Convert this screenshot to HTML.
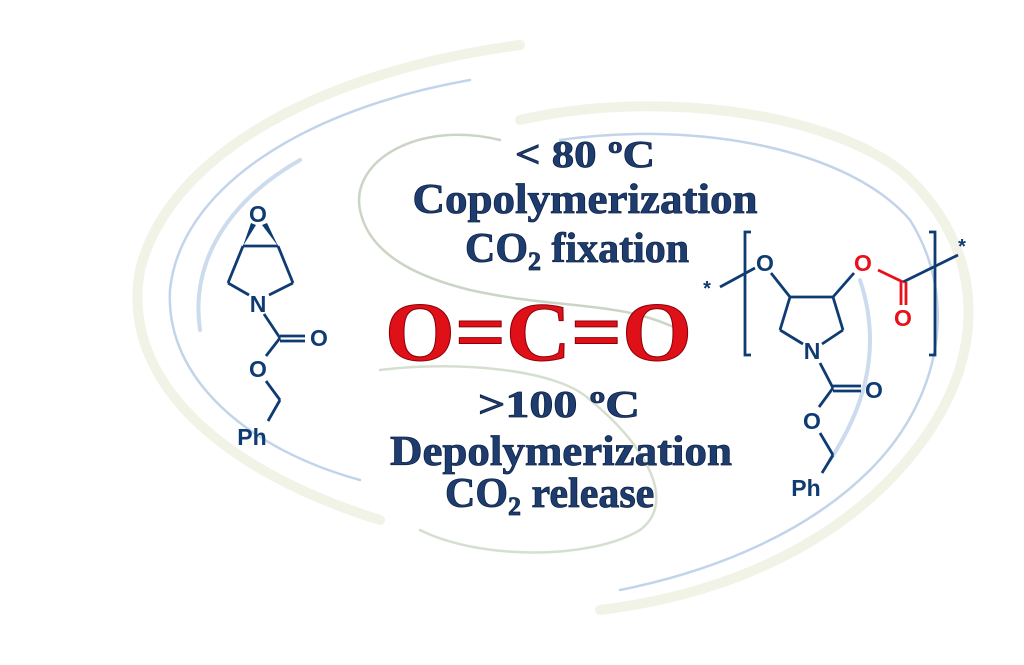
<!DOCTYPE html>
<html><head><meta charset="utf-8"><style>
html,body{margin:0;padding:0;background:#fff;width:1024px;height:665px;overflow:hidden}
svg{display:block}
.t{font-family:"Liberation Serif",serif;font-weight:bold;fill:#1f3c6e;stroke:#0d2448;stroke-width:0.8}
.c{font-family:"Liberation Sans",sans-serif;font-weight:bold;fill:#0f3b73}
.r{font-family:"Liberation Sans",sans-serif;font-weight:bold;fill:#e8101a}
</style></head><body>
<svg width="1024" height="665" viewBox="0 0 1024 665" xmlns="http://www.w3.org/2000/svg">
<g fill="none" stroke-linecap="round">
<path d="M520,45 C330,70 170,150 140,270 C120,380 220,470 380,520" stroke="#e6ebd3" stroke-width="10" opacity="0.6"/>
<path d="M470,80 C300,110 180,190 170,290 C165,380 250,450 360,480" stroke="#9ab8dc" stroke-width="2.5" opacity="0.6"/>
<path d="M200,330 C190,260 230,200 300,160" stroke="#9ab8dc" stroke-width="4" opacity="0.5"/>
<path d="M500,140 C420,120 350,160 360,210 C370,260 430,280 470,290 C560,310 620,300 680,330" stroke="#a9b9a0" stroke-width="2.5" opacity="0.6"/>
<path d="M380,370 C460,360 560,370 590,400 C640,440 680,500 640,530 C590,560 480,560 420,530" stroke="#b9c9b0" stroke-width="2.5" opacity="0.6"/>
<path d="M520,120 C650,90 820,110 900,170 C980,240 990,340 930,430 C870,520 760,590 600,610" stroke="#e6ebd3" stroke-width="10" opacity="0.6"/>
<path d="M560,140 C700,120 850,150 910,220 C960,300 940,400 870,470 C810,530 720,570 620,590" stroke="#9ab8dc" stroke-width="2.5" opacity="0.6"/>
<path d="M860,280 C880,340 870,400 830,460" stroke="#9ab8dc" stroke-width="4" opacity="0.5"/>
</g>
<text class="t" x="585" y="167" font-size="38" text-anchor="middle" textLength="140" lengthAdjust="spacingAndGlyphs">&lt; 80 ºC</text>
<text class="t" x="585" y="213" font-size="42" text-anchor="middle" textLength="345" lengthAdjust="spacingAndGlyphs">Copolymerization</text>
<text class="t" x="465" y="262" font-size="42">CO<tspan font-size="26" dy="8">2</tspan><tspan dy="-8"> fixation</tspan></text>
<text x="385" y="360" font-family="Liberation Serif,serif" font-weight="bold" font-size="84" fill="#e01018" stroke="#8a0008" stroke-width="1" textLength="307" lengthAdjust="spacingAndGlyphs">O=C=O</text>
<text class="t" x="478" y="417" font-size="38" textLength="162" lengthAdjust="spacingAndGlyphs">&gt;100  ºC</text>
<text class="t" x="561" y="465" font-size="42" text-anchor="middle" textLength="342" lengthAdjust="spacingAndGlyphs">Depolymerization</text>
<text class="t" x="445" y="507" font-size="42">CO<tspan font-size="26" dy="8">2</tspan><tspan dy="-8"> release</tspan></text>
<g stroke="#0f3b73" stroke-width="2.8" fill="none">
<line x1="243" y1="246" x2="278" y2="246"/>
<line x1="243" y1="246" x2="228" y2="283"/>
<line x1="278" y1="246" x2="293" y2="283"/>
<line x1="228" y1="283" x2="249" y2="295"/>
<line x1="293" y1="283" x2="269" y2="295"/>
<line x1="264" y1="314" x2="280" y2="338"/>
<line x1="280" y1="336" x2="305" y2="336"/>
<line x1="280" y1="341" x2="305" y2="341"/>
<line x1="280" y1="338" x2="266" y2="356"/>
<line x1="266" y1="381" x2="280" y2="400"/>
<line x1="280" y1="400" x2="268" y2="421"/>
</g>
<polygon points="243,246 251,223 256,225" fill="#0f3b73"/>
<polygon points="278,246 262,225 267,223" fill="#0f3b73"/>
<text class="c" x="258" y="222" font-size="23" text-anchor="middle">O</text>
<text class="c" x="258" y="312" font-size="23" text-anchor="middle">N</text>
<text class="c" x="319" y="346" font-size="23" text-anchor="middle">O</text>
<text class="c" x="258" y="377" font-size="23" text-anchor="middle">O</text>
<text class="c" x="252" y="445" font-size="23" text-anchor="middle">Ph</text>
<g stroke="#0f3b73" stroke-width="2.8" fill="none">
<path d="M751,232 h-6 v123 h6"/>
<path d="M929,232 h6 v123 h-6"/>
<line x1="720" y1="287" x2="755" y2="268"/>
<line x1="771" y1="273" x2="790" y2="297"/>
<line x1="790" y1="297" x2="833" y2="297"/>
<line x1="833" y1="297" x2="854" y2="273"/>
<line x1="790" y1="297" x2="780" y2="330"/>
<line x1="833" y1="297" x2="843" y2="330"/>
<line x1="780" y1="330" x2="803" y2="344"/>
<line x1="843" y1="330" x2="822" y2="344"/>
<line x1="820" y1="363" x2="833" y2="388"/>
<line x1="833" y1="386" x2="861" y2="386"/>
<line x1="833" y1="391" x2="861" y2="391"/>
<line x1="833" y1="388" x2="819" y2="407"/>
<line x1="820" y1="433" x2="833" y2="455"/>
<line x1="833" y1="455" x2="822" y2="473"/>
<line x1="903" y1="282" x2="958" y2="255"/>
</g>
<g stroke="#e8101a" stroke-width="2.8">
<line x1="878" y1="270" x2="903" y2="282"/>
<line x1="901" y1="282" x2="901" y2="305"/>
<line x1="906" y1="282" x2="906" y2="305"/>
</g>
<text class="c" x="765" y="271" font-size="23" text-anchor="middle">O</text>
<text class="r" x="863" y="271" font-size="23" text-anchor="middle">O</text>
<text class="r" x="903" y="326" font-size="23" text-anchor="middle">O</text>
<text class="c" x="812" y="359" font-size="23" text-anchor="middle">N</text>
<text class="c" x="874" y="398" font-size="23" text-anchor="middle">O</text>
<text class="c" x="812" y="429" font-size="23" text-anchor="middle">O</text>
<text class="c" x="806" y="496" font-size="23" text-anchor="middle">Ph</text>
<text class="c" x="707" y="295" font-size="20" text-anchor="middle">*</text>
<text class="c" x="962" y="253" font-size="20" text-anchor="middle">*</text>
</svg>
</body></html>
